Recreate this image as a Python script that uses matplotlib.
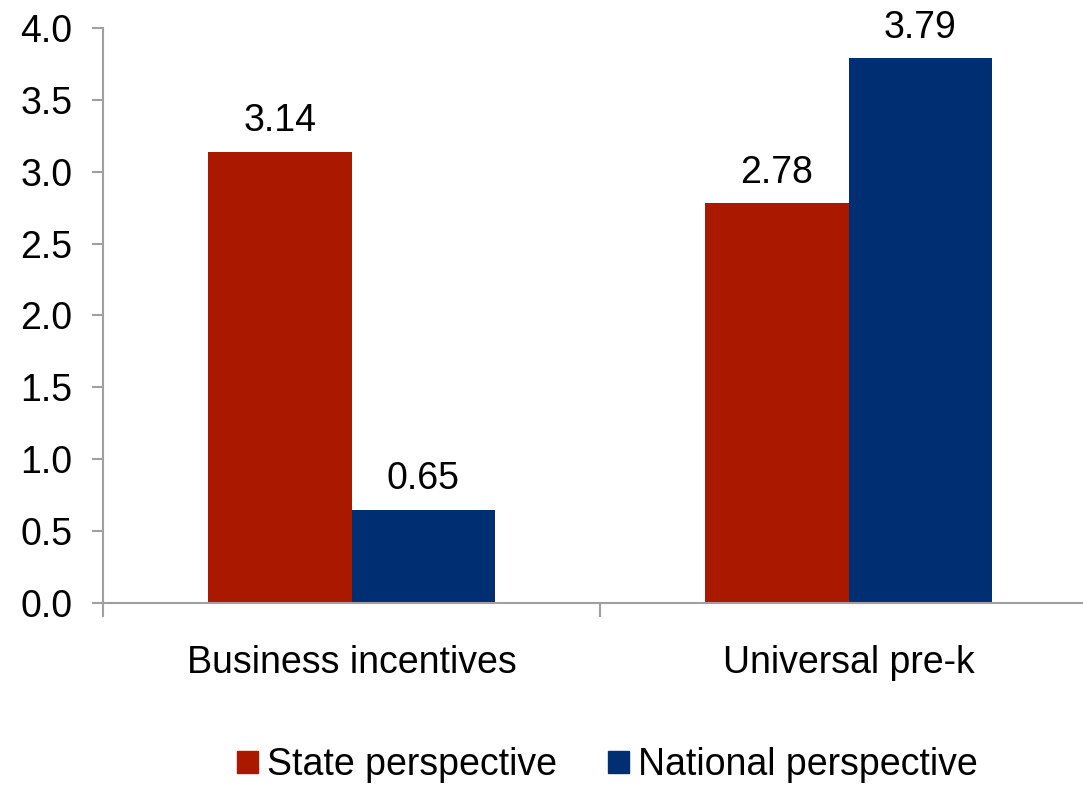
import numpy as np
import matplotlib.pyplot as plt
from matplotlib.patches import Patch

# data
categories = ['Business incentives', 'Universal pre-k']
state_values = [3.14, 2.78]
national_values = [0.65, 3.79]
series_names = ['State perspective', 'National perspective']

red = '#AB1800'
blue = '#002E73'
grey = '#A0A0A0'

plt.rcParams['font.family'] = ['Liberation Sans', 'DejaVu Sans']

fig = plt.figure(figsize=(10.83, 7.88), dpi=100)
ax = fig.add_axes([0.0951, 0.2348, 1.013 - 0.0951, 0.9645 - 0.2348])

x = np.arange(len(categories))
w = 0.288
b1 = ax.bar(x - w / 2, state_values, w, color=red, label=series_names[0])
b2 = ax.bar(x + w / 2, national_values, w, color=blue, label=series_names[1])

# value labels above the bars
for bars, vals in [(b1, state_values), (b2, national_values)]:
    for rect, v in zip(bars, vals):
        ax.annotate(f'{v:.2f}', (rect.get_x() + rect.get_width() / 2, v),
                    xytext=(0, 9), textcoords='offset points',
                    ha='center', va='bottom', fontsize=27)

ax.set_xlim(-0.5, 1.5)
ax.set_ylim(0, 4.0)
ax.set_yticks(np.arange(0, 4.01, 0.5))
ax.set_yticklabels([f'{t:.1f}' for t in np.arange(0, 4.01, 0.5)])

# category labels centred, tick marks between categories
ax.set_xticks(x)
ax.set_xticklabels(categories)
ax.set_xticks([-0.5, 0.5, 1.5], minor=True)
ax.tick_params(axis='x', which='major', length=0, pad=30, labelsize=27)
ax.tick_params(axis='x', which='minor', length=10, width=1.5, color=grey, direction='out')
ax.tick_params(axis='y', length=8, width=1.5, color=grey, labelsize=27, pad=14)

for s in ['top', 'right']:
    ax.spines[s].set_visible(False)
for s in ['left', 'bottom']:
    ax.spines[s].set_color(grey)
    ax.spines[s].set_linewidth(1.5)

handles = [Patch(color=red), Patch(color=blue)]
fig.legend(handles, series_names, loc='center', bbox_to_anchor=(0.561, 0.029),
           ncol=2, frameon=False, fontsize=27, handlelength=0.55, handleheight=0.55,
           handletextpad=0.25, columnspacing=1.35)

fig.savefig('out.png', dpi=100)
